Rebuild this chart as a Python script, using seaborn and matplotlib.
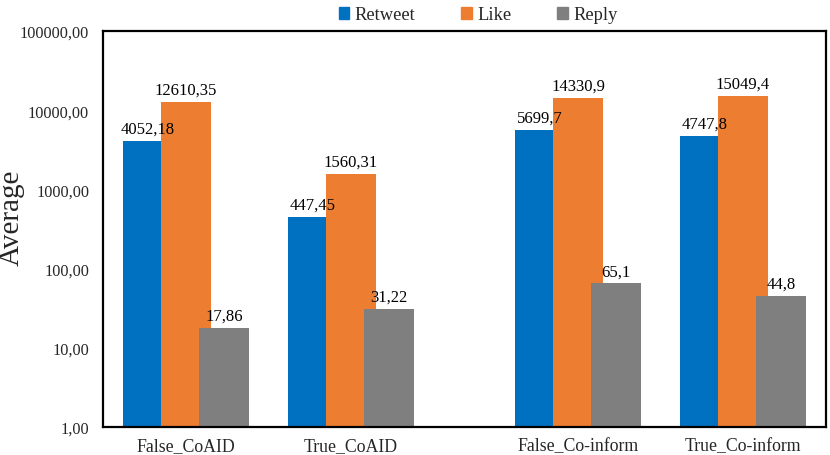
import matplotlib
matplotlib.use("Agg")
import matplotlib.pyplot as plt
import matplotlib.patches as mpatches
import matplotlib.ticker as mticker
import seaborn as sns
import pandas as pd

# ---- data ----
groups = ["False_CoAID", "True_CoAID", "False_Co-inform", "True_Co-inform"]
metrics = ["Retweet", "Like", "Reply"]
retweet = [4052.18, 447.45, 5699.7, 4747.8]
like = [12610.35, 1560.31, 14330.9, 15049.4]
reply = [17.86, 31.22, 65.1, 44.8]
yticks = [1, 10, 100, 1000, 10000, 100000]
colors = ["#0070C0", "#ED7D31", "#7F7F7F"]

rows = []
for m, vals in zip(metrics, [retweet, like, reply]):
    for g, v in zip(groups, vals):
        rows.append({"group": g, "metric": m, "value": v})
df = pd.DataFrame(rows)

sns.set_theme(style="white")
plt.rcParams["font.family"] = ["Liberation Serif", "DejaVu Serif"]

fig = plt.figure(figsize=(8.3, 4.56), dpi=100)
ax = fig.add_axes([103 / 830, 28 / 456, 723 / 830, 396 / 456])

sns.barplot(data=df, x="group", y="value", hue="metric", order=groups,
            hue_order=metrics, palette=colors, width=0.69, errorbar=None,
            linewidth=0, saturation=1, ax=ax, legend=False)
ax.set_yscale("log")

# layout: overlapping bars and wider gap between the two datasets
gap = 0.376
bar_w = 0.303
for p in ax.patches:
    cx = p.get_x() + p.get_width() / 2
    gi = int(round(cx))
    shift = gap if gi >= 2 else 0.0
    p.set_width(bar_w)
    p.set_x(cx + shift - bar_w / 2)

for cont in ax.containers:
    ax.bar_label(cont, labels=[str(v.get_height()).replace(".", ",") for v in cont],
                 padding=3, fontsize=12, color="black")

ax.set_xticks([i + (gap if i >= 2 else 0) for i in range(len(groups))])
ax.set_xticklabels(groups, fontsize=12.8)
ax.set_xlim(-0.503, 3 + gap + 0.503)
ax.set_ylim(1, 100000)
ax.set_yticks(yticks)
ax.yaxis.set_major_formatter(mticker.FuncFormatter(lambda v, pos: f"{v:.2f}".replace(".", ",")))
ax.yaxis.set_minor_locator(mticker.NullLocator())
ax.tick_params(axis="y", length=0, pad=10, labelsize=11.7)
ax.tick_params(axis="x", length=0, pad=7)
ax.set_xlabel("")
ax.set_ylabel("Average", fontsize=21)
ax.yaxis.set_label_coords(-0.108, 0.53)
for s in ax.spines.values():
    s.set_visible(True)
    s.set_color("black")
    s.set_linewidth(1.6)

handles = [mpatches.Patch(color=c, label=m) for c, m in zip(colors, metrics)]
fig.legend(handles=handles, loc="center", bbox_to_anchor=(0.576, 1 - 16 / 456),
           ncol=3, frameon=False, fontsize=13.3, handlelength=0.55, handleheight=0.55,
           handletextpad=0.3, columnspacing=2.5)

fig.savefig("out.png", dpi=100)
